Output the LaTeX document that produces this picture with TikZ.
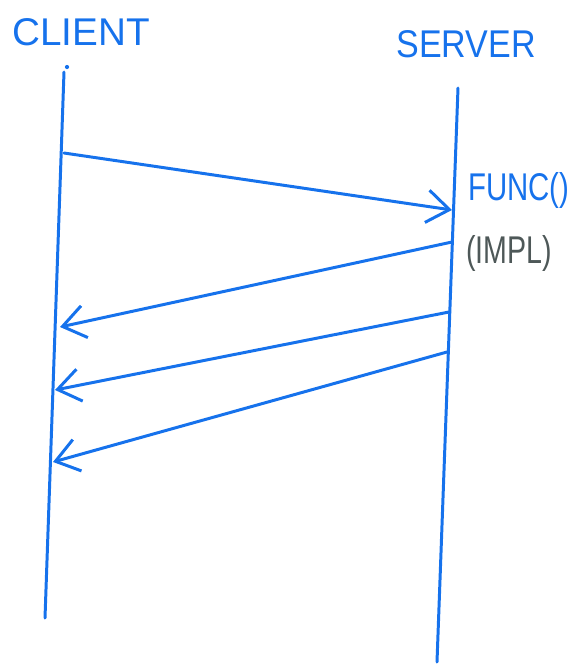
\documentclass[tikz,border=0pt]{standalone}
\usepackage{fontspec}
\setsansfont{Liberation Sans}
\usetikzlibrary{arrows.meta}
\definecolor{ink}{RGB}{22,114,236}
\definecolor{pencil}{RGB}{78,88,88}
\tikzset{
  lifeline/.style={ink,line width=1.7pt,line cap=round},
  msg/.style={ink,line width=1.7pt,line cap=round,
    -{Straight Barb[length=4.5mm,width=6.5mm,line width=1.7pt]}},
  lbl/.style={font=\sffamily\fontsize{22}{26}\selectfont,inner sep=0pt}
}
\newcommand{\squeeze}[2]{\scalebox{#1}[1]{#2}}

\begin{document}
\begin{tikzpicture}[x=0.02cm,y=-0.02cm]
  \useasboundingbox (0,0) rectangle (573,664);
  % lifelines
  \coordinate (Ctop) at (64,72);
  \coordinate (Cbot) at (45,618);
  \coordinate (Stop) at (458,88);
  \coordinate (Sbot) at (437,662);
  \draw[lifeline] (Ctop) -- (Cbot);
  \draw[lifeline] (Stop) -- (Sbot);
  \fill[ink] (67,67) circle (1.2pt);
  \node[lbl,ink] (client) at (81,32) {CLIENT};
  \node[lbl,ink] (server) at (466,44) {\squeeze{0.88}{SERVER}};
  % request
  \coordinate (reqA) at (64,153);
  \coordinate (reqB) at (452,210);
  \draw[msg] (reqA) -- (reqB);
  \node[lbl,ink,anchor=west] (func) at (468,190) {\squeeze{0.76}{FUNC()}};
  \node[lbl,pencil,anchor=west] (impl) at (466,253) {\squeeze{0.74}{(IMPL)}};
  % replies
  \coordinate (repA) at (452,242);
  \coordinate (repB) at (60,327);
  \coordinate (repC) at (449,312);
  \coordinate (repD) at (55,390);
  \coordinate (repE) at (447,352);
  \coordinate (repF) at (53,462);
  \draw[msg] (repA) -- (repB);
  \draw[msg] (repC) -- (repD);
  \draw[msg] (repE) -- (repF);
\end{tikzpicture}
\end{document}
